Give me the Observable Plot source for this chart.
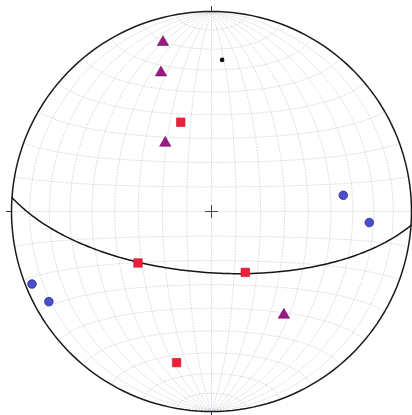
<!DOCTYPE html>
<html>
<head>
<meta charset="utf-8">
<script src="https://cdn.jsdelivr.net/npm/d3@7"></script>
<script src="https://cdn.jsdelivr.net/npm/@observablehq/plot@0.6"></script>
<style>
  html, body { margin: 0; padding: 0; background: #fff; }
  #chart svg { display: block; }
</style>
</head>
<body>
<div id="chart"></div>
<script>
// Lower-hemisphere equal-area (Schmidt) net, north at the top.

// Lineations as trend / plunge in degrees
const triangleTrend  = [344, 340, 326, 145];
const trianglePlunge = [13, 27, 56, 37];

const squareTrend  = [341, 235, 151, 193];
const squarePlunge = [51, 53, 61.5, 23.5];

const circleTrend  = [83, 94, 248, 241];
const circlePlunge = [34, 22, 3.6, 7.8];

// Plane as strike / dip (right-hand rule); its pole is plotted too
const planeStrike = [94];
const planeDip    = [65];

// Cardinal tick marks round the primitive circle
const cardinalAnchors = ["top", "right", "bottom", "left"];
const cardinalRotate  = [0, 90, 180, 270];

const rad = Math.PI / 180;

// Line (trend, plunge) -> [lon, lat] on a sphere whose view centre is straight down
function toLonLat(trend, plunge) {
  const t = trend * rad, p = plunge * rad;
  const down = Math.sin(p), east = Math.cos(p) * Math.sin(t), north = Math.cos(p) * Math.cos(t);
  return [Math.atan2(east, down) / rad, Math.asin(Math.max(-1, Math.min(1, north))) / rad];
}

function lineations(trends, plunges, kind) {
  return trends.map((tr, i) => {
    const [lon, lat] = toLonLat(tr, plunges[i]);
    return {kind, trend: tr, plunge: plunges[i], lon, lat};
  });
}

const triangles = lineations(triangleTrend, trianglePlunge, "triangle");
const squares   = lineations(squareTrend, squarePlunge, "square");
const circles   = lineations(circleTrend, circlePlunge, "circle");

// Pole to each plane: trend = dip direction + 180, plunge = 90 - dip
const poles = planeStrike.map((s, i) => {
  const trend = (s + 90 + 180) % 360, plunge = 90 - planeDip[i];
  const [lon, lat] = toLonLat(trend, plunge);
  return {trend, plunge, lon, lat};
});

// Each plane is the great circle lying 90 degrees from its pole
const planes = poles.map((p) => ({
  type: "LineString",
  coordinates: d3.geoCircle().center([p.lon, p.lat]).radius(90).precision(1)().coordinates[0]
}));

const grid = d3.geoGraticule().step([10, 10]).extent([[-180, -90], [180, 90]]).precision(1)();

// A plain radial stroke for the cardinal ticks
const tickShape = {
  draw(context, l) {
    context.moveTo(0, 0);
    context.lineTo(0, -l);
  }
};

const tickMarks = cardinalAnchors.map((anchor, i) =>
  Plot.vector([anchor], {
    frameAnchor: anchor,
    rotate: cardinalRotate[i],
    length: 5,
    anchor: "start",
    shape: tickShape,
    stroke: "#333",
    strokeWidth: 1
  })
);

const chart = Plot.plot({
  width: 412,
  height: 415,
  marginTop: 11,
  marginLeft: 11,
  marginRight: 1,
  marginBottom: 4,
  projection: {
    type: () => d3.geoAzimuthalEqualArea().clipAngle(90).precision(0.1),
    domain: {type: "Sphere"}
  },
  marks: [
    Plot.geo(grid, {stroke: "#8f98aa", strokeWidth: 0.7, strokeOpacity: 0.45, strokeDasharray: "1.2,1.8"}),
    Plot.sphere({stroke: "#1a1a1a", strokeWidth: 1.5}),
    Plot.geo(planes, {stroke: "#151515", strokeWidth: 1.5}),
    ...tickMarks,
    Plot.dot([0], {frameAnchor: "middle", symbol: "plus", r: 4.2, stroke: "#444", strokeWidth: 1}),
    Plot.dot(poles, {x: "lon", y: "lat", r: 2.3, fill: "#111", stroke: "none"}),
    Plot.dot(squares, {x: "lon", y: "lat", symbol: "square", r: 4.8, fill: "#ec1f3a", stroke: "#c81830", strokeWidth: 0.6}),
    Plot.dot(triangles, {x: "lon", y: "lat", symbol: "triangle", r: 4.2, fill: "#9a1a82", stroke: "#6e1060", strokeWidth: 0.6}),
    Plot.dot(circles, {x: "lon", y: "lat", symbol: "circle", r: 4.3, fill: "#4b4fcf", stroke: "#27297a", strokeWidth: 0.8})
  ]
});

document.getElementById("chart").appendChild(chart);
</script>
</body>
</html>
